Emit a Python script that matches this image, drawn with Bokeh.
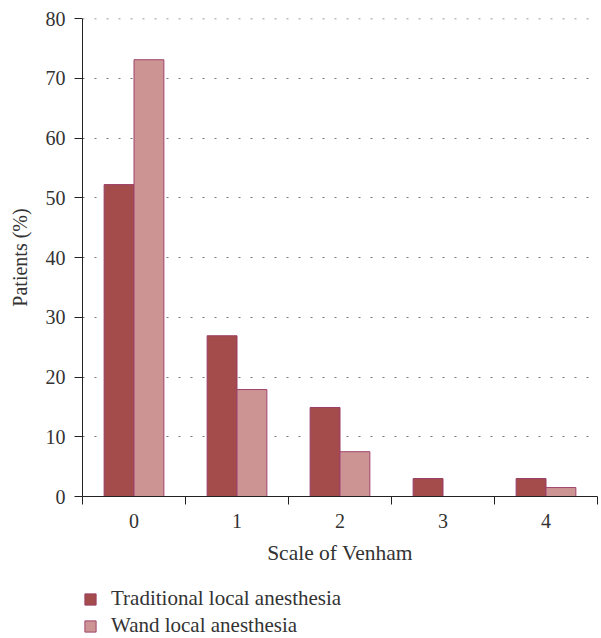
from bokeh.plotting import figure
from bokeh.models import Range1d, FixedTicker, Legend, LegendItem, ColumnDataSource, Span
from bokeh.layouts import column
from bokeh.embed import file_html
from bokeh.resources import INLINE

categories = ["0", "1", "2", "3", "4"]
traditional = [52.2, 26.9, 14.9, 3.0, 3.0]
wand = [73.1, 17.9, 7.5, 0.0, 1.5]
series_names = ["Traditional local anesthesia", "Wand local anesthesia"]
y_ticks = [0, 10, 20, 30, 40, 50, 60, 70, 80]

FONT = "Liberation Serif"
TICK_FS = "20px"
LEG_FS = "21px"
C_TRAD, C_WAND = "#a44b4c", "#cc9493"
L_TRAD, L_WAND = "#9a3d66", "#a0446e"
x = list(range(len(categories)))
bw = 0.29

p = figure(width=601, height=582, output_backend="svg", toolbar_location=None,
           x_range=Range1d(-0.5, len(categories) - 0.5), y_range=Range1d(0, 80),
           min_border_top=18, min_border_left=82, min_border_right=4, min_border_bottom=86)
p.outline_line_color = None
p.background_fill_color = "white"

src_t = ColumnDataSource(dict(x=[i - bw / 2 for i in x], top=traditional))
src_w = ColumnDataSource(dict(x=[i + bw / 2 for i in x], top=wand))
p.vbar(x="x", top="top", width=bw, bottom=0, source=src_t,
       fill_color=C_TRAD, line_color=L_TRAD, line_width=1)
p.vbar(x="x", top="top", width=bw, bottom=0, source=src_w,
       fill_color=C_WAND, line_color=L_WAND, line_width=1)

p.xgrid.grid_line_color = None
p.ygrid.grid_line_color = "#777777"
p.ygrid.grid_line_dash = "2 10"
p.ygrid.grid_line_width = 1
p.yaxis.ticker = FixedTicker(ticks=y_ticks)
top_grid = Span(location=y_ticks[-1], dimension="width", line_color="#777777",
                line_dash="2 10", line_width=1.5)
p.add_layout(top_grid)

p.xaxis.ticker = FixedTicker(ticks=x, minor_ticks=[i - 0.5 for i in range(len(categories) + 1)])
p.xaxis.major_label_overrides = {i: c for i, c in enumerate(categories)}
p.xaxis.major_tick_out = 0
p.xaxis.major_tick_in = 0
p.xaxis.minor_tick_out = 8
p.xaxis.minor_tick_in = 0
p.yaxis.major_tick_out = 8
p.yaxis.major_tick_in = 0

for ax in (p.xaxis, p.yaxis):
    ax.axis_line_color = "#222222"
    ax.major_tick_line_color = "#222222"
    ax.minor_tick_line_color = "#222222"
    ax.major_label_text_font = FONT
    ax.major_label_text_font_size = TICK_FS
    ax.major_label_text_color = "#333333"
    ax.axis_label_text_font = FONT
    ax.axis_label_text_font_style = "normal"
    ax.axis_label_text_color = "#333333"
p.xaxis.axis_label_text_font_size = "21.5px"
p.yaxis.axis_label_text_font_size = "20px"
p.yaxis.minor_tick_line_color = None
p.xaxis.axis_label = "Scale of Venham"
p.yaxis.axis_label = "Patients (%)"
p.xaxis.major_label_standoff = 9
p.xaxis.axis_label_standoff = 10
p.yaxis.major_label_standoff = 9
p.yaxis.axis_label_standoff = 12

# legend strip below the chart; its glyph renderers hold the same series, kept out of view
lg = figure(width=601, height=56, output_backend="svg", toolbar_location=None,
            x_range=Range1d(-0.5, len(categories) - 0.5), y_range=Range1d(500, 501),
            min_border=0, min_border_left=0, min_border_right=0, min_border_top=0, min_border_bottom=0)
lg.axis.visible = False
lg.grid.visible = False
lg.outline_line_color = None
lr1 = lg.vbar(x="x", top="top", width=bw, source=src_t, fill_color=C_TRAD, line_color=L_TRAD, line_width=1)
lr2 = lg.vbar(x="x", top="top", width=bw, source=src_w, fill_color=C_WAND, line_color=L_WAND, line_width=1)
legend = Legend(items=[LegendItem(label=series_names[0], renderers=[lr1]),
                       LegendItem(label=series_names[1], renderers=[lr2])],
                location=(1, 0), orientation="vertical")
legend.border_line_color = None
legend.background_fill_alpha = 0
legend.label_text_font = FONT
legend.label_text_font_size = LEG_FS
legend.label_text_color = "#333333"
legend.glyph_width = 14
legend.glyph_height = 14
legend.spacing = 2
legend.padding = 0
legend.margin = 0
legend.label_standoff = 14
legend.label_height = 22
lg.add_layout(legend)

layout = column(p, lg, spacing=0)
open("out.html", "w").write(file_html(layout, INLINE))
